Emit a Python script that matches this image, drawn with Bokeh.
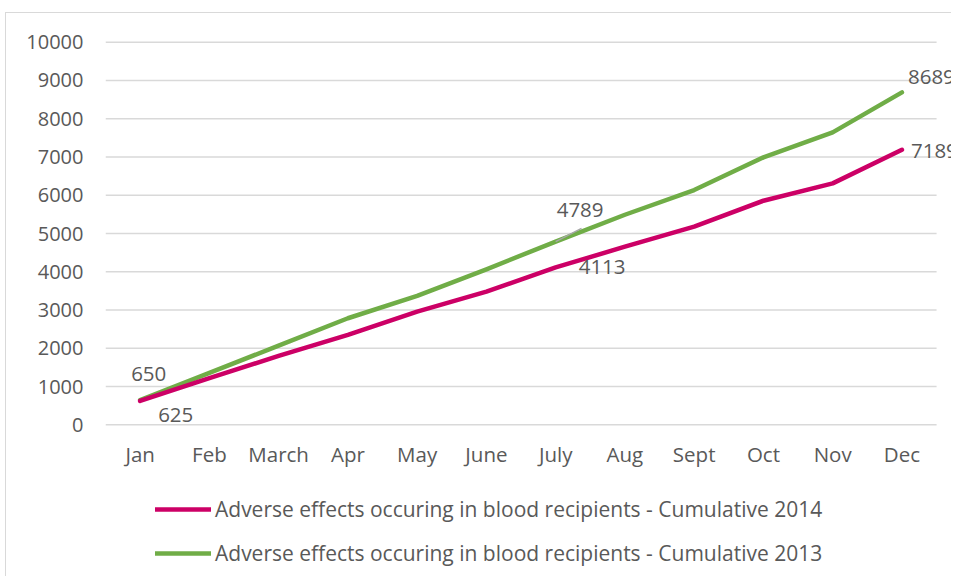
import math
from bokeh.plotting import figure
from bokeh.layouts import column
from bokeh.models import (ColumnDataSource, Range1d, FixedTicker,
                          Legend, LegendItem, LabelSet)
from bokeh.core.properties import value
from bokeh.embed import file_html
from bokeh.resources import INLINE

# ---- data ----
months = ["Jan", "Feb", "March", "Apr", "May", "June", "July", "Aug", "Sept", "Oct", "Nov", "Dec"]
cum_2014 = [625, 1220, 1800, 2350, 2960, 3480, 4113, 4655, 5178, 5857, 6310, 7189]
cum_2013 = [650, 1358, 2070, 2785, 3368, 4065, 4789, 5490, 6136, 6990, 7642, 8689]
y_ticks = [0, 1000, 2000, 3000, 4000, 5000, 6000, 7000, 8000, 9000, 10000]
series_names = ["Adverse effects occuring in blood recipients - Cumulative 2014",
                "Adverse effects occuring in blood recipients - Cumulative 2013"]
label_months = ["Jan", "Jan", "July", "July", "Dec", "Dec"]
label_values = [650, 625, 4789, 4113, 8689, 7189]
leader_month = "July"
leader_value = 4789

# label placement (style, in pixels; left edge of text)
label_dx = [-9, 18, 1, 23, 6, 9]
label_dy = [26, -14, 32, 0, 15, -1]

FONT = "Open Sans"
TXT = "#595959"
GRID = "#d9d9d9"
C14 = "#CC0066"
C13 = "#70AD47"
BORDER = "1.5px solid #d9d9d9"

n = len(months)
xi = list(range(n))
src = ColumnDataSource(dict(x=xi, a=cum_2014, b=cum_2013))
line_style = dict(line_width=4.5, line_cap="round", line_join="round")

# ---------------- main chart ----------------
p = figure(x_range=Range1d(-0.5, n - 0.5 + 0.23), y_range=Range1d(-200, 10200),
           width=946, height=467, output_backend="svg", toolbar_location=None,
           min_border_left=99, min_border_right=0, min_border_top=21, min_border_bottom=48)
p.styles = {"border-left": BORDER, "border-top": BORDER}
p.outline_line_color = None
p.xgrid.grid_line_color = None
p.ygrid.grid_line_color = None

# horizontal gridlines spanning the category area
p.segment(x0=-0.5, x1=n - 0.5, y0=y_ticks, y1=y_ticks, line_color=GRID, line_width=1.5)

p.line("x", "b", source=src, line_color=C13, **line_style)
p.line("x", "a", source=src, line_color=C14, **line_style)

# leader line of the 4789 data label
p.ray(x=[months.index(leader_month)], y=[leader_value], length=29, length_units="screen",
      angle=math.radians(27), line_color="#a6a6a6", line_width=1.5)

p.yaxis.ticker = FixedTicker(ticks=y_ticks)
p.yaxis.axis_line_color = None
p.yaxis.major_tick_line_color = None
p.yaxis.minor_tick_line_color = None
p.yaxis.major_tick_out = 0
p.yaxis.major_label_standoff = 22
p.yaxis.major_label_text_font = FONT
p.yaxis.major_label_text_font_size = "20px"
p.yaxis.major_label_text_color = TXT

p.xaxis.ticker = FixedTicker(ticks=xi)
p.xaxis.major_label_overrides = {i: m for i, m in zip(xi, months)}
p.xaxis.axis_line_color = None
p.xaxis.major_tick_line_color = None
p.xaxis.minor_tick_line_color = None
p.xaxis.major_tick_out = 0
p.xaxis.major_label_standoff = 7
p.xaxis.major_label_text_font = FONT
p.xaxis.major_label_text_font_size = "20.5px"
p.xaxis.major_label_text_color = TXT

lsrc = ColumnDataSource(dict(x=[months.index(m) for m in label_months], y=label_values,
                             t=[str(v) for v in label_values],
                             dx=label_dx, dy=label_dy))
labels = LabelSet(x="x", y="y", text="t", source=lsrc, x_offset="dx", y_offset="dy",
                  text_align="left", text_baseline="middle",
                  text_font=value(FONT), text_font_size="20.5px", text_color=TXT)
p.add_layout(labels)

# ---------------- legend strip ----------------
lg = figure(x_range=Range1d(-0.5, n - 0.5 + 0.23), y_range=Range1d(-2, -1),
            width=946, height=97, output_backend="svg", toolbar_location=None,
            min_border_left=99, min_border_right=0, min_border_top=0, min_border_bottom=0)
lg.styles = {"border-left": BORDER}
lg.outline_line_color = None
lg.axis.visible = False
lg.grid.visible = False
g14 = lg.line("x", "a", source=src, line_color=C14, **line_style)
g13 = lg.line("x", "b", source=src, line_color=C13, **line_style)

legend = Legend(items=[LegendItem(label=series_names[0], renderers=[g14]),
                       LegendItem(label=series_names[1], renderers=[g13])],
                location=(50, 9), orientation="vertical",
                glyph_width=56, glyph_height=20, label_height=20, spacing=16,
                padding=0, margin=0, label_standoff=4,
                border_line_color=None, background_fill_alpha=0,
                label_text_font=FONT, label_text_font_size="21px", label_text_color=TXT)
lg.add_layout(legend)

layout = column(p, lg, spacing=0)
layout.margin = (12, 0, 0, 5)

open("out.html", "w").write(file_html(layout, INLINE))
